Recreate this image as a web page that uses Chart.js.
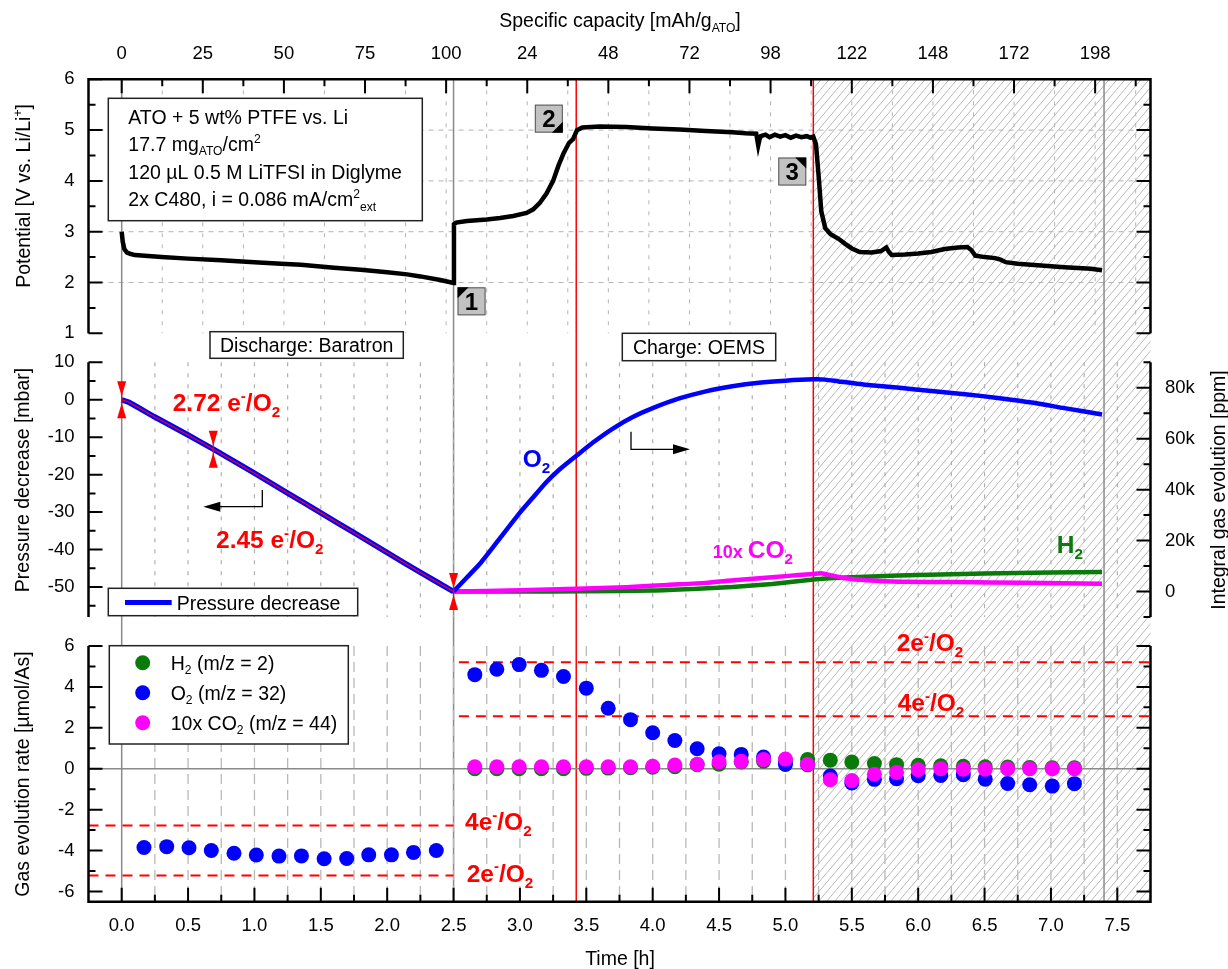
<!DOCTYPE html>
<html>
<head>
<meta charset="utf-8">
<title>ATO cathode: potential, pressure and gas evolution</title>
<script src="https://cdn.jsdelivr.net/npm/chart.js@4.4.1/dist/chart.umd.min.js"></script>
<style>
  html, body { margin: 0; padding: 0; background: #fff; }
  #wrap { position: relative; width: 1228px; height: 969px; overflow: hidden; background: #fff; }
  #wrap canvas { position: absolute; left: 0; top: 0; }
</style>
</head>
<body>
<div id="wrap">
  <canvas id="cPot" width="1228" height="969"></canvas>
  <canvas id="cGas" width="1228" height="969"></canvas>
  <canvas id="cRate" width="1228" height="969"></canvas>
</div>
<script>
// ---------------- data (time in h) ----------------
// Cell potential [V vs. Li/Li+]: discharge, then charge
const potentialCurve = [
  [0, 3.0], [0.008, 2.8], [0.02, 2.66], [0.04, 2.59], [0.07, 2.56], [0.1, 2.54], [0.3, 2.5], [0.5, 2.47],
  [0.75, 2.44], [1.0, 2.4], [1.2, 2.37], [1.35, 2.35], [1.6, 2.29], [1.8, 2.25], [2.0, 2.2], [2.15, 2.16],
  [2.25, 2.12], [2.4, 2.05], [2.5, 1.99],
  [2.503, 3.15], [2.52, 3.18], [2.6, 3.21], [2.75, 3.24], [2.85, 3.27], [2.95, 3.31], [3.05, 3.37],
  [3.1, 3.44], [3.15, 3.57], [3.2, 3.75], [3.25, 4.0], [3.29, 4.3], [3.33, 4.55], [3.37, 4.75], [3.4, 4.82],
  [3.43, 5.0], [3.47, 5.05], [3.6, 5.07], [3.8, 5.06], [4.0, 5.03], [4.2, 5.01], [4.4, 4.98], [4.6, 4.96],
  [4.7, 4.94], [4.78, 4.93], [4.795, 4.7], [4.805, 4.82], [4.815, 4.88], [4.85, 4.91], [4.88, 4.86],
  [4.92, 4.91], [4.96, 4.87], [5.0, 4.9], [5.04, 4.85], [5.08, 4.89], [5.12, 4.86], [5.16, 4.88],
  [5.19, 4.85], [5.21, 4.87],
  [5.23, 4.72], [5.25, 4.1], [5.27, 3.4], [5.3, 3.07], [5.34, 2.95], [5.4, 2.86], [5.45, 2.76], [5.5, 2.67],
  [5.56, 2.6], [5.65, 2.59], [5.72, 2.62], [5.76, 2.69], [5.78, 2.6], [5.8, 2.54], [5.9, 2.55], [6.0, 2.57],
  [6.1, 2.6], [6.2, 2.66], [6.3, 2.69], [6.37, 2.7], [6.4, 2.64], [6.43, 2.53], [6.5, 2.5], [6.58, 2.48],
  [6.62, 2.45], [6.66, 2.4], [6.75, 2.37], [6.9, 2.34], [7.1, 2.3], [7.3, 2.27], [7.385, 2.24]
];

// Baratron pressure decrease during discharge [mbar]
const pressureCurve = [
  [0, 0], [0.05, -0.6], [0.25, -4.6], [0.5, -9.4], [0.69, -13.2], [1.0, -19.6], [1.25, -24.9],
  [1.5, -30.2], [1.75, -35.5], [2.0, -40.8], [2.25, -46.1], [2.5, -51.2]
];
// points marked on the pressure trace (start, 2.72 e-/O2 fit point, end of discharge)
const pressureMarks = [[0, 0], [0.69, -13.2], [2.5, -51.2]];

// OEMS integral gas evolution during charge [ppm]
const o2Integral = [
  [2.5, 0], [2.6, 5500], [2.7, 11000], [2.85, 21000], [3.0, 31000], [3.1, 37000], [3.2, 43000],
  [3.3, 48000], [3.43, 53500], [3.55, 58500], [3.7, 64000], [3.85, 68500], [4.0, 72000], [4.2, 75800],
  [4.4, 78600], [4.6, 80600], [4.8, 82000], [5.0, 82800], [5.21, 83300], [5.3, 83200], [5.4, 82500],
  [5.6, 81200], [5.86, 80000], [6.1, 78700], [6.37, 77400], [6.6, 76000], [6.87, 74100], [7.1, 72000],
  [7.385, 69500]
];
const h2Integral = [
  [2.5, 0], [3.0, 0], [3.5, 100], [4.0, 400], [4.3, 1000], [4.6, 1800], [4.9, 3000], [5.21, 4700],
  [5.4, 5400], [5.7, 6000], [6.0, 6500], [6.5, 7100], [7.0, 7500], [7.385, 7700]
];
const co2Integral10x = [
  [2.5, 0], [3.0, 500], [3.43, 1100], [3.8, 1700], [4.11, 2600], [4.4, 3400], [4.61, 4400], [4.9, 5600],
  [5.1, 6500], [5.21, 6900], [5.27, 7200], [5.35, 6300], [5.45, 5200], [5.61, 4400], [5.86, 3800],
  [6.3, 3700], [6.8, 3400], [7.385, 3100]
];

// Gas evolution rates [µmol/As]
const rateTimeDischarge = [0.168, 0.339, 0.507, 0.675, 0.846, 1.014, 1.185, 1.354, 1.525, 1.695, 1.861, 2.032, 2.198, 2.37];
const o2RateDischarge   = [-3.85, -3.81, -3.86, -4.0, -4.13, -4.22, -4.27, -4.26, -4.4, -4.39, -4.21, -4.21, -4.09, -4.0];
const rateTimeCharge = [2.66, 2.826, 2.994, 3.162, 3.328, 3.5, 3.665, 3.833, 4.0, 4.167, 4.335, 4.5, 4.667, 4.835,
                        5.0, 5.167, 5.338, 5.5, 5.67, 5.837, 6.0, 6.17, 6.34, 6.505, 6.674, 6.84, 7.01, 7.177];
const o2RateCharge  = [4.6, 4.86, 5.09, 4.81, 4.51, 3.94, 2.96, 2.4, 1.76, 1.38, 0.98, 0.73, 0.7, 0.57,
                       0.21, 0.2, -0.36, -0.7, -0.52, -0.49, -0.34, -0.33, -0.29, -0.51, -0.72, -0.78, -0.85, -0.73];
const h2RateCharge  = [0, 0, 0, 0, 0, 0.02, 0.03, 0.05, 0.07, 0.1, 0.2, 0.22, 0.33, 0.37,
                       0.4, 0.45, 0.42, 0.33, 0.25, 0.2, 0.17, 0.14, 0.12, 0.1, 0.08, 0.06, 0.05, 0.05];
const co2RateCharge10x = [0.1, 0.1, 0.1, 0.1, 0.1, 0.1, 0.1, 0.1, 0.12, 0.18, 0.22, 0.34, 0.36, 0.45,
                          0.47, 0.22, -0.54, -0.58, -0.27, -0.18, -0.05, 0, -0.02, -0.02, 0, 0, 0, 0];

// Theoretical O2 rates for 2 e-/O2 and 4 e-/O2
const dischargeRefLevels = [-2.78, -5.22];   // 4e-, 2e-
const chargeRefLevels = [5.2, 2.57];         // 2e-, 4e-
const dischargeRefSpan = [-0.25, 2.5];
const chargeRefSpan = [2.54, 7.75];

// Specific capacity axis (top): tick positions in h and their labels
const capTickHours = [0, 0.611, 1.222, 1.833, 2.444, 3.055, 3.666, 4.277, 4.888, 5.5, 6.111, 6.722, 7.333];
const capTickLabels = ['0', '25', '50', '75', '100', '24', '48', '72', '98', '122', '148', '172', '198'];

// Phase markers
const phaseLines = [0, 2.5, 7.4];     // start, discharge end, charge end
const switchLines = [3.424, 5.21];    // red markers
const hatchStart = 5.21;

// ---------------- layout & style ----------------
const W = 1228, H = 969;
const FONT = "'Liberation Sans', Arial, Helvetica, sans-serif";
const TIME_MIN = -0.25, TIME_MAX = 7.75;
const PLOT_LEFT = 88.5, PLOT_RIGHT = 1150.5;
const PANEL_POT = { top: 79.3, bottom: 333.3 };
const PANEL_GAS = { top: 362.3, bottom: 617 };
const PANEL_RATE = { top: 646, bottom: 901.7 };
const BLUE = '#0000ff', RED = '#ff0000', GREEN = '#0a7a0a', MAGENTA = '#ff00ff';
const TICK_FONT = { family: FONT, size: 18.5 };

Chart.defaults.font.family = FONT;
Chart.defaults.color = '#000';

const toXY = arr => arr.map(p => ({ x: p[0], y: p[1] }));
const zipXY = (xs, ys) => xs.map((x, i) => ({ x: x, y: ys[i] }));
function range(a, b, step) { const out = []; for (let v = a; v <= b + 1e-9; v += step) out.push(+v.toFixed(6)); return out; }
// axis boxes get a fixed thickness so the plot areas line up across the three panels
function fixedSize(n) { return s => { if (s.isHorizontal()) s.height = n; else s.width = n; }; }
function ticksAt(values) { return s => { s.ticks = values.map(v => ({ value: v })); }; }

function timeScale(pos, size, extra) {
  return Object.assign({
    type: 'linear', position: pos, min: TIME_MIN, max: TIME_MAX, afterFit: fixedSize(size),
    grid: { display: false, drawTicks: false }, border: { display: false }, ticks: { display: false }
  }, extra || {});
}
function valueScale(pos, size, min, max, tickValues, fmt, pad) {
  return {
    type: 'linear', position: pos, min: min, max: max, afterFit: fixedSize(size),
    afterBuildTicks: ticksAt(tickValues),
    grid: { display: false, drawTicks: false }, border: { display: false },
    ticks: { padding: pad, autoSkip: false, font: TICK_FONT, color: '#000', callback: fmt }
  };
}

// ---------------- drawing helpers ----------------
// text with sub-/superscripts; parts: [text, 'sub'|'sup'|null, sizeOverride]
function rich(ctx, x, y, parts, o) {
  const size = o.size || 19.5;
  const wt = o.bold ? '700 ' : '400 ';
  const sizes = parts.map(p => p[2] || (p[1] ? size * 0.62 : size));
  const widths = parts.map((p, i) => { ctx.font = wt + sizes[i] + 'px ' + FONT; return ctx.measureText(p[0]).width; });
  const total = widths.reduce((a, b) => a + b, 0);
  let cx = o.align === 'center' ? x - total / 2 : (o.align === 'right' ? x - total : x);
  ctx.save();
  ctx.fillStyle = o.color || '#000';
  ctx.textAlign = 'left';
  ctx.textBaseline = 'alphabetic';
  parts.forEach((p, i) => {
    ctx.font = wt + sizes[i] + 'px ' + FONT;
    const dy = p[1] === 'sup' ? -size * 0.42 : (p[1] === 'sub' ? size * 0.24 : 0);
    ctx.fillText(p[0], cx, y + dy);
    cx += widths[i];
  });
  ctx.restore();
  return total;
}
function richVertical(ctx, cx, cy, parts, o) {
  ctx.save();
  ctx.translate(cx, cy);
  ctx.rotate(-Math.PI / 2);
  rich(ctx, 0, (o.size || 19.5) * 0.36, parts, Object.assign({}, o, { align: 'center' }));
  ctx.restore();
}
function line(ctx, x1, y1, x2, y2, color, width, dash) {
  ctx.save();
  ctx.strokeStyle = color; ctx.lineWidth = width; ctx.setLineDash(dash || []);
  ctx.beginPath(); ctx.moveTo(x1, y1); ctx.lineTo(x2, y2); ctx.stroke();
  ctx.restore();
}
function polyline(ctx, pts, color, width) {
  ctx.save();
  ctx.strokeStyle = color; ctx.lineWidth = width; ctx.lineJoin = 'miter'; ctx.lineCap = 'butt';
  ctx.beginPath(); pts.forEach((p, i) => i ? ctx.lineTo(p[0], p[1]) : ctx.moveTo(p[0], p[1])); ctx.stroke();
  ctx.restore();
}
// inward tick marks along a vertical edge
function vTicks(ctx, scale, xEdge, dir, majors, minors) {
  ctx.save(); ctx.strokeStyle = '#000'; ctx.lineWidth = 2; ctx.beginPath();
  majors.forEach(v => { const y = scale.getPixelForValue(v); ctx.moveTo(xEdge, y); ctx.lineTo(xEdge + dir * 14, y); });
  minors.forEach(v => { const y = scale.getPixelForValue(v); ctx.moveTo(xEdge, y); ctx.lineTo(xEdge + dir * 7, y); });
  ctx.stroke(); ctx.restore();
}
// inward tick marks along a horizontal edge
function hTicks(ctx, scale, yEdge, dir, majors, minors) {
  ctx.save(); ctx.strokeStyle = '#000'; ctx.lineWidth = 2; ctx.beginPath();
  majors.forEach(v => { const x = scale.getPixelForValue(v); ctx.moveTo(x, yEdge); ctx.lineTo(x, yEdge + dir * 14); });
  minors.forEach(v => { const x = scale.getPixelForValue(v); ctx.moveTo(x, yEdge); ctx.lineTo(x, yEdge + dir * 7); });
  ctx.stroke(); ctx.restore();
}
function vGrid(ctx, scale, values, top, bottom, color, width, dash) {
  values.forEach(v => { const x = scale.getPixelForValue(v); line(ctx, x, top, x, bottom, color, width, dash); });
}
function textBox(ctx, x1, y1, x2, y2) {
  ctx.save();
  ctx.fillStyle = '#fff'; ctx.fillRect(x1, y1, x2 - x1, y2 - y1);
  ctx.strokeStyle = '#222'; ctx.lineWidth = 1.5; ctx.strokeRect(x1, y1, x2 - x1, y2 - y1);
  ctx.restore();
}
function numberBox(ctx, left, top, label, corner) {
  const s = 28, t = 11;
  ctx.save();
  ctx.fillStyle = '#c2c2c2'; ctx.fillRect(left, top, s, s);
  ctx.strokeStyle = '#555'; ctx.lineWidth = 1; ctx.strokeRect(left + 0.5, top + 0.5, s - 1, s - 1);
  ctx.fillStyle = '#000'; ctx.beginPath();
  const r = left + s, b = top + s;
  if (corner === 'tl') { ctx.moveTo(left, top); ctx.lineTo(left + t, top); ctx.lineTo(left, top + t); }
  if (corner === 'tr') { ctx.moveTo(r, top); ctx.lineTo(r - t, top); ctx.lineTo(r, top + t); }
  if (corner === 'br') { ctx.moveTo(r, b); ctx.lineTo(r - t, b); ctx.lineTo(r, b - t); }
  ctx.closePath(); ctx.fill();
  ctx.font = '700 24px ' + FONT; ctx.textAlign = 'center'; ctx.textBaseline = 'alphabetic';
  ctx.fillText(label, left + s / 2, top + s / 2 + 8.5);
  ctx.restore();
}
function pinchMark(ctx, cx, cy) {
  ctx.save();
  ctx.fillStyle = RED; ctx.strokeStyle = RED; ctx.lineWidth = 1.2;
  ctx.beginPath(); ctx.moveTo(cx, cy - 18); ctx.lineTo(cx, cy + 18); ctx.stroke();
  ctx.beginPath(); ctx.moveTo(cx - 4.5, cy - 18.5); ctx.lineTo(cx + 4.5, cy - 18.5); ctx.lineTo(cx, cy - 3.5); ctx.closePath(); ctx.fill();
  ctx.beginPath(); ctx.moveTo(cx - 4.5, cy + 18.5); ctx.lineTo(cx + 4.5, cy + 18.5); ctx.lineTo(cx, cy + 3.5); ctx.closePath(); ctx.fill();
  ctx.restore();
}
function elbowArrow(ctx, pts, tip, dir) {
  polyline(ctx, pts, '#000', 1.3);
  ctx.save(); ctx.fillStyle = '#000'; ctx.beginPath();
  ctx.moveTo(tip[0], tip[1]);
  ctx.lineTo(tip[0] - dir * 17, tip[1] - 5);
  ctx.lineTo(tip[0] - dir * 17, tip[1] + 5);
  ctx.closePath(); ctx.fill(); ctx.restore();
}
const E_O2 = (lead) => [[lead], ['-', 'sup'], ['/O'], ['2', 'sub']];

// ---------------- panel 1: potential ----------------
const potPlugin = {
  id: 'potFrame',
  beforeDatasetsDraw(chart) {
    const ctx = chart.ctx, x = chart.scales.x, y = chart.scales.y;
    const top = PANEL_POT.top, bottom = PANEL_RATE.bottom;
    // hatched region after the end of the O2 evolution phase (all panels)
    const x0 = x.getPixelForValue(hatchStart), x1 = PLOT_RIGHT;
    ctx.save();
    ctx.beginPath(); ctx.rect(x0, top, x1 - x0, bottom - top); ctx.clip();
    ctx.strokeStyle = '#b9b9b9'; ctx.lineWidth = 1; ctx.beginPath();
    const h = bottom - top, k = 0.85;
    for (let s = x0 - h * k; s < x1 + 10; s += 8) { ctx.moveTo(s, bottom); ctx.lineTo(s + h * k, top); }
    ctx.stroke(); ctx.restore();
    // grid of the potential panel
    [2, 3, 4, 5].forEach(v => { const py = y.getPixelForValue(v); line(ctx, PLOT_LEFT, py, PLOT_RIGHT, py, '#b4b4b4', 1, [5, 5]); });
    const step = capTickHours[1] - capTickHours[0];
    const capGrid = [];
    capTickHours.forEach(v => { capGrid.push(v); capGrid.push(v + step / 2); });
    vGrid(ctx, x, capGrid.filter(v => v > 0 && v < TIME_MAX), top, PANEL_POT.bottom, '#b4b4b4', 1, [4, 7]);
    // phase lines spanning all panels
    phaseLines.forEach(v => { const px = x.getPixelForValue(v); line(ctx, px, top, px, bottom, '#8a8a8a', 1.5); });
    switchLines.forEach(v => { const px = x.getPixelForValue(v); line(ctx, px, top, px, bottom, RED, 1.5); });
  },
  afterDatasetsDraw(chart) {
    const ctx = chart.ctx, x = chart.scales.x, y = chart.scales.y;
    const t = PANEL_POT.top, b = PANEL_POT.bottom;
    polyline(ctx, [[PLOT_LEFT, b], [PLOT_LEFT, t], [PLOT_RIGHT, t], [PLOT_RIGHT, b]], '#000', 2.5);
    vTicks(ctx, y, PLOT_LEFT, 1, range(1, 6, 1), range(1.5, 5.5, 1));
    vTicks(ctx, y, PLOT_RIGHT, -1, range(1, 6, 1), range(1.5, 5.5, 1));
    const step = capTickHours[1] - capTickHours[0];
    hTicks(ctx, x, t, 1, capTickHours, capTickHours.map(v => v + step / 2).filter(v => v < TIME_MAX));
    // cell description
    textBox(ctx, 108.3, 98.3, 422.3, 220.7);
    rich(ctx, 128.3, 124, [['ATO + 5 wt% PTFE vs. Li']], { size: 19.5 });
    rich(ctx, 128.3, 150.7, [['17.7 mg'], ['ATO', 'sub'], ['/cm'], ['2', 'sup']], { size: 19.5 });
    rich(ctx, 128.3, 178.5, [['120 µL 0.5 M LiTFSI in Diglyme']], { size: 19.5 });
    rich(ctx, 128.3, 206, [['2x C480, i = 0.086 mA/cm'], ['2', 'sup'], ['ext', 'sub']], { size: 19.5 });
    // numbered points on the potential curve
    numberBox(ctx, x.getPixelForValue(2.53), y.getPixelForValue(1.905), '1', 'tl');
    numberBox(ctx, x.getPixelForValue(3.323) - 28, y.getPixelForValue(4.95) - 28, '2', 'br');
    numberBox(ctx, x.getPixelForValue(5.157) - 28, y.getPixelForValue(4.46), '3', 'tr');
    // axis titles
    richVertical(ctx, 23, 196, [['Potential [V vs. Li/Li'], ['+', 'sup'], [']']], { size: 19.5 });
    rich(ctx, 620, 27, [['Specific capacity [mAh/g'], ['ATO', 'sub'], [']']], { size: 19.5, align: 'center' });
  }
};

new Chart(document.getElementById('cPot'), {
  type: 'line',
  data: {
    datasets: [{
      label: 'Potential', data: toXY(potentialCurve), borderColor: '#000', borderWidth: 4.5,
      pointRadius: 0, tension: 0, fill: false, xAxisID: 'x', yAxisID: 'y'
    }]
  },
  options: {
    responsive: false, animation: false, events: [],
    layout: { padding: { left: 0, right: W - PLOT_RIGHT, top: 0, bottom: H - PANEL_POT.bottom } },
    plugins: { legend: { display: false }, tooltip: { enabled: false } },
    scales: {
      x: timeScale('bottom', 0),
      xTop: timeScale('top', PANEL_POT.top, {
        axis: 'x',
        afterBuildTicks: ticksAt(capTickHours),
        ticks: { display: true, padding: 14.5, autoSkip: false, maxRotation: 0, font: TICK_FONT, color: '#000',
                 callback: (v, i) => capTickLabels[i] }
      }),
      y: valueScale('left', PLOT_LEFT, 1, 6, range(1, 6, 1), v => String(v), 14)
    }
  },
  plugins: [potPlugin]
});

// ---------------- panel 2: pressure & integral gas evolution ----------------
const gasPlugin = {
  id: 'gasFrame',
  beforeDatasetsDraw(chart) {
    const ctx = chart.ctx, x = chart.scales.x;
    vGrid(ctx, x, range(0.25, 7.5, 0.25), PANEL_GAS.top, PANEL_GAS.bottom, '#b0b0b0', 1.2, [4, 7]);
  },
  afterDatasetsDraw(chart) {
    const ctx = chart.ctx, x = chart.scales.x, y = chart.scales.y, yR = chart.scales.yR;
    const t = PANEL_GAS.top, b = PANEL_GAS.bottom;
    line(ctx, PLOT_LEFT, t, PLOT_LEFT, b, '#000', 2.5);
    line(ctx, PLOT_RIGHT, t, PLOT_RIGHT, b, '#000', 2.5);
    vTicks(ctx, y, PLOT_LEFT, 1, range(-50, 10, 10), range(-55, 5, 10));
    vTicks(ctx, yR, PLOT_RIGHT, -1, range(0, 80000, 20000), range(-10000, 90000, 20000));
    pressureMarks.forEach(p => pinchMark(ctx, x.getPixelForValue(p[0]), y.getPixelForValue(p[1])));
    // axis direction arrows
    elbowArrow(ctx, [[262.3, 490], [262.3, 506.7], [212, 506.7]], [203.3, 506.7], -1);
    elbowArrow(ctx, [[631, 431.7], [631, 449.3], [680, 449.3]], [690, 449.3], 1);
    // labels
    rich(ctx, 172.7, 411, E_O2('2.72 e'), { size: 24.5, bold: true, color: RED });
    rich(ctx, 216, 548.3, E_O2('2.45 e'), { size: 24.5, bold: true, color: RED });
    rich(ctx, 522.7, 466.7, [['O'], ['2', 'sub']], { size: 24.5, bold: true, color: BLUE });
    rich(ctx, 712.7, 557.7, [['10x ', null, 18], ['CO'], ['2', 'sub']], { size: 24.5, bold: true, color: MAGENTA });
    rich(ctx, 1056.7, 552.7, [['H'], ['2', 'sub']], { size: 24.5, bold: true, color: GREEN });
    // phase boxes
    textBox(ctx, 210, 331.7, 403.3, 358.3);
    rich(ctx, 306.7, 352, [['Discharge: Baratron']], { size: 19.5, align: 'center' });
    textBox(ctx, 622.3, 333.3, 775.7, 360.7);
    rich(ctx, 699, 354, [['Charge: OEMS']], { size: 19.5, align: 'center' });
    // legend
    textBox(ctx, 108.3, 588.3, 357.7, 615.7);
    line(ctx, 125, 602.5, 171.7, 602.5, BLUE, 5);
    rich(ctx, 176.7, 609.5, [['Pressure decrease']], { size: 19.5 });
    // axis titles
    richVertical(ctx, 22, 480, [['Pressure decrease [mbar]']], { size: 19.5 });
    richVertical(ctx, 1218, 490, [['Integral gas evolution [ppm]']], { size: 19.5 });
  }
};

new Chart(document.getElementById('cGas'), {
  type: 'line',
  data: {
    datasets: [
      { label: 'Pressure decrease', data: toXY(pressureCurve), borderColor: RED, borderWidth: 1.2, order: 0, yAxisID: 'y' },
      { label: 'Pressure decrease', data: toXY(pressureCurve), borderColor: BLUE, borderWidth: 5.5, order: 1, yAxisID: 'y' },
      { label: 'O2', data: toXY(o2Integral), borderColor: BLUE, borderWidth: 4.5, order: 2, yAxisID: 'yR' },
      { label: '10x CO2', data: toXY(co2Integral10x), borderColor: MAGENTA, borderWidth: 4.5, order: 3, yAxisID: 'yR' },
      { label: 'H2', data: toXY(h2Integral), borderColor: GREEN, borderWidth: 4.5, order: 4, yAxisID: 'yR' }
    ].map(d => Object.assign({ pointRadius: 0, tension: 0.2, fill: false, xAxisID: 'x' }, d))
  },
  options: {
    responsive: false, animation: false, events: [],
    layout: { padding: { left: 0, right: 0, top: PANEL_GAS.top, bottom: H - PANEL_GAS.bottom } },
    plugins: { legend: { display: false }, tooltip: { enabled: false } },
    scales: {
      x: timeScale('bottom', 0),
      y: valueScale('left', PLOT_LEFT, -58, 10, range(-50, 10, 10), v => String(v), 14),
      yR: valueScale('right', W - PLOT_RIGHT, -10000, 90000, range(0, 80000, 20000), v => (v === 0 ? '0' : (v / 1000) + 'k'), 14.5)
    }
  },
  plugins: [gasPlugin]
});

// ---------------- panel 3: gas evolution rates ----------------
const ratePlugin = {
  id: 'rateFrame',
  beforeDatasetsDraw(chart) {
    const ctx = chart.ctx, x = chart.scales.x, y = chart.scales.y;
    vGrid(ctx, x, range(0.25, 7.5, 0.25), PANEL_RATE.top, PANEL_RATE.bottom, '#b8b8b8', 1.3, [10, 6]);
    const y0 = y.getPixelForValue(0);
    line(ctx, PLOT_LEFT, y0, PLOT_RIGHT, y0, '#8a8a8a', 1.5);
  },
  afterDatasetsDraw(chart) {
    const ctx = chart.ctx, x = chart.scales.x, y = chart.scales.y;
    const t = PANEL_RATE.top, b = PANEL_RATE.bottom;
    polyline(ctx, [[PLOT_LEFT, t], [PLOT_LEFT, b], [PLOT_RIGHT, b], [PLOT_RIGHT, t]], '#000', 2.5);
    vTicks(ctx, y, PLOT_LEFT, 1, range(-6, 6, 2), range(-5, 5, 2));
    vTicks(ctx, y, PLOT_RIGHT, -1, range(-6, 6, 2), range(-5, 5, 2));
    hTicks(ctx, x, b, -1, range(0, 7.5, 0.5), range(0.25, 7.25, 0.5));
    // reference line labels
    const lab = { size: 24.5, bold: true, color: RED };
    rich(ctx, 465, 830, E_O2('4e'), lab);
    rich(ctx, 466.7, 881.7, E_O2('2e'), lab);
    rich(ctx, 896.7, 651, E_O2('2e'), lab);
    rich(ctx, 897.7, 711, E_O2('4e'), lab);
    // legend
    textBox(ctx, 109.3, 645.7, 348.3, 744);
    const rows = [
      [GREEN, [['H'], ['2', 'sub'], [' (m/z = 2)']]],
      [BLUE, [['O'], ['2', 'sub'], [' (m/z = 32)']]],
      [MAGENTA, [['10x CO'], ['2', 'sub'], [' (m/z = 44)']]]
    ];
    rows.forEach((r, i) => {
      const cy = 662.7 + i * 30;
      ctx.save(); ctx.fillStyle = r[0]; ctx.beginPath(); ctx.arc(142.7, cy, 7.5, 0, Math.PI * 2); ctx.fill(); ctx.restore();
      rich(ctx, 170.7, cy + 7, r[1], { size: 19.5 });
    });
    // axis titles
    richVertical(ctx, 21.5, 774, [['Gas evolution rate [µmol/As]']], { size: 19.5 });
    rich(ctx, 620, 965, [['Time [h]']], { size: 19.5, align: 'center' });
  }
};

const refLine = (span, level) => ({
  type: 'line', data: [{ x: span[0], y: level }, { x: span[1], y: level }], showLine: true,
  borderColor: RED, borderWidth: 2, borderDash: [10, 7], pointRadius: 0, order: 5
});
const dots = (xs, ys, color, order) => ({
  data: zipXY(xs, ys), backgroundColor: color, borderWidth: 0, pointRadius: 7.5, showLine: false, order: order
});

new Chart(document.getElementById('cRate'), {
  type: 'scatter',
  data: {
    datasets: [
      dots(rateTimeCharge, co2RateCharge10x, MAGENTA, 0),
      dots(rateTimeDischarge, o2RateDischarge, BLUE, 1),
      dots(rateTimeCharge, o2RateCharge, BLUE, 1),
      dots(rateTimeCharge, h2RateCharge, GREEN, 2),
      refLine(dischargeRefSpan, dischargeRefLevels[0]),
      refLine(dischargeRefSpan, dischargeRefLevels[1]),
      refLine(chargeRefSpan, chargeRefLevels[0]),
      refLine(chargeRefSpan, chargeRefLevels[1])
    ]
  },
  options: {
    responsive: false, animation: false, events: [],
    layout: { padding: { left: 0, right: W - PLOT_RIGHT, top: PANEL_RATE.top, bottom: 0 } },
    plugins: { legend: { display: false }, tooltip: { enabled: false } },
    scales: {
      x: timeScale('bottom', H - PANEL_RATE.bottom, {
        afterBuildTicks: ticksAt(range(0, 7.5, 0.5)),
        ticks: { display: true, padding: 13, autoSkip: false, maxRotation: 0, font: TICK_FONT, color: '#000',
                 callback: v => Number(v).toFixed(1) }
      }),
      y: valueScale('left', PLOT_LEFT, -6.5, 6, range(-6, 6, 2), v => String(v), 14)
    }
  },
  plugins: [ratePlugin]
});
</script>
</body>
</html>
